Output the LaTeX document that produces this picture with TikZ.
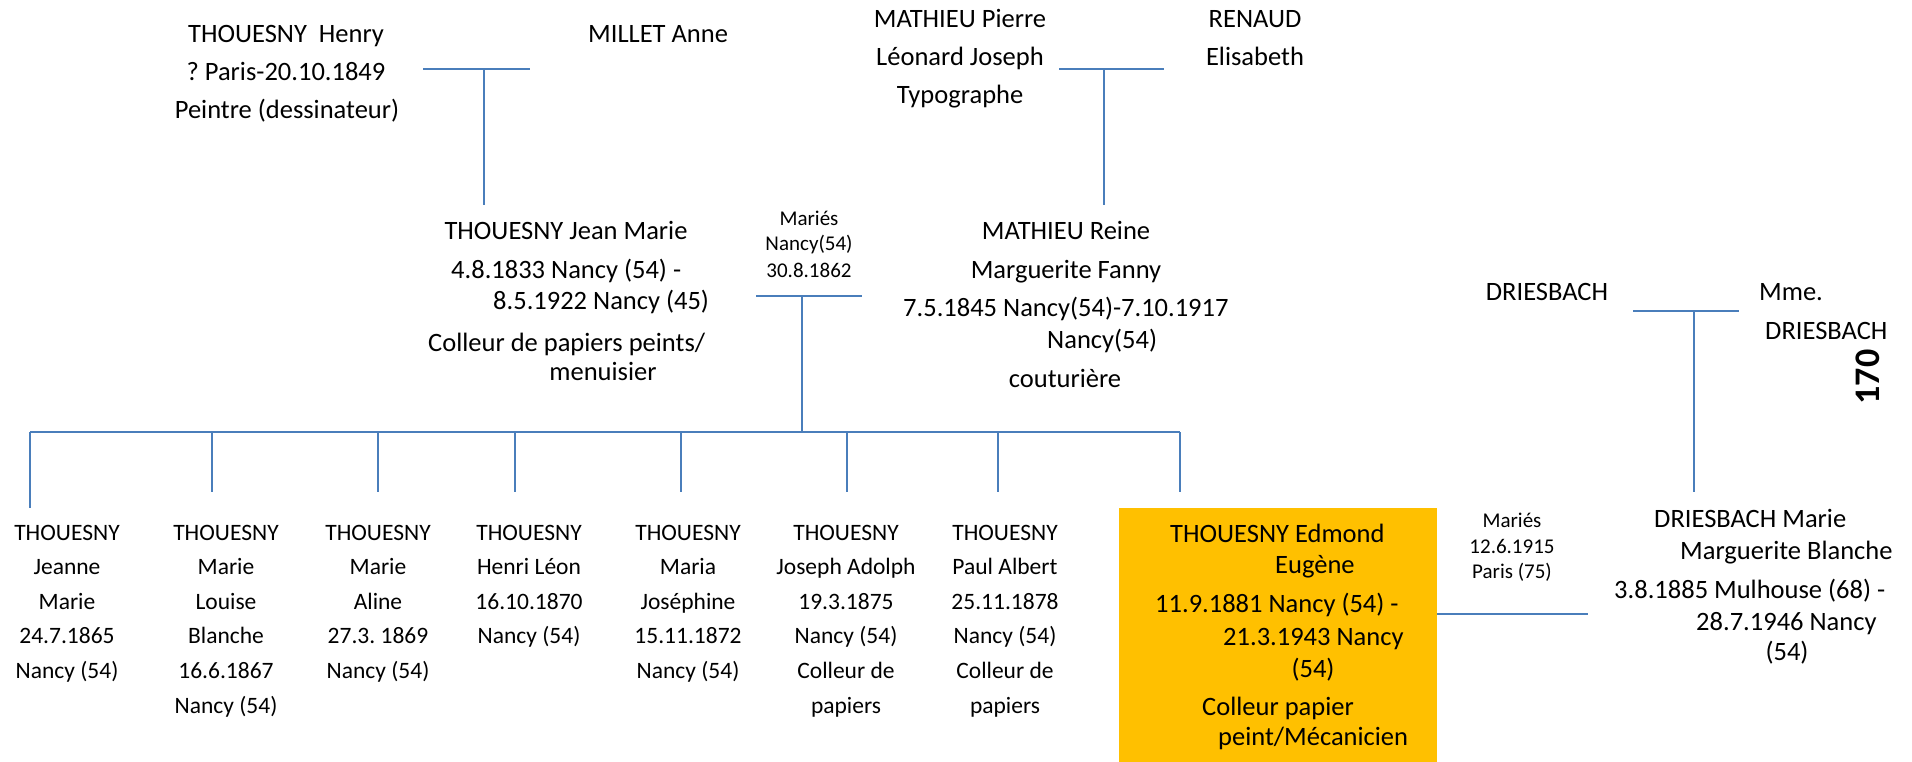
\documentclass[tikz,border=0pt]{standalone}
\usepackage{fontspec}
\setmainfont{Carlito}
\frenchspacing
\definecolor{lineblue}{RGB}{74,126,187}
\definecolor{boxorange}{RGB}{255,192,0}
\tikzset{
  ln/.style={draw=lineblue, line width=2pt},
  tx/.style={inner sep=0pt, anchor=base, font=\fontsize{26.5}{32}\selectfont},
  tw/.style={tx, anchor=base west},
  ch/.style={inner sep=0pt, anchor=base, font=\fontsize{23.5}{28}\selectfont},
  sm/.style={inner sep=0pt, anchor=base, font=\fontsize{21}{25}\selectfont},
}
\newcommand\kidlines[3]{%
  \foreach \l [count=\i from 0] in {#3}
    \node[ch] (#1-\i) at ({#2},{540+34.6*\i}) {\l};}
\begin{document}
\begin{tikzpicture}[x=1pt,y=-1pt]
\useasboundingbox (0,0) rectangle (1912,762);

% highlighted box
\node[fill=boxorange, inner sep=0pt, minimum width=318pt, minimum height=254pt, anchor=north west] (edbox) at (1119,508) {};

% ---- grandparents ----
\node[tx] (h1) at (286,43) {THOUESNY\ \ Henry};
\node[tx] (h2) at (286,81) {? Paris-20.10.1849};
\node[tx] (h3) at (287,119) {Peintre (dessinateur)};
\node[tw] (m1) at (588,43) {MILLET Anne};

\node[tx] (p1) at (960,28) {MATHIEU Pierre};
\node[tx] (p2) at (960,66) {Léonard Joseph};
\node[tx] (p3) at (960,104) {Typographe};
\node[tx] (r1) at (1255,28) {RENAUD};
\node[tx] (r2) at (1255,66) {Elisabeth};

% ---- parents ----
\node[tx] (j1) at (566,240) {THOUESNY Jean Marie};
\node[tw] (j2) at (451,278) {4.8.1833 Nancy (54) -};
\node[tw] (j3) at (493,309) {8.5.1922 Nancy (45)};
\node[tw] (j4) at (428,351) {Colleur de papiers peints/};
\node[tx] (j5) at (603,380) {menuisier};

\node[sm] (ma1) at (809,226) {Mariés};
\node[sm] (ma2) at (809,251) {Nancy(54)};
\node[sm] (ma3) at (809,277) {30.8.1862};

\node[tx] (rn1) at (1066,240) {MATHIEU Reine};
\node[tx] (rn2) at (1066,278) {Marguerite Fanny};
\node[tw] (rn3) at (903,316) {7.5.1845 Nancy(54)-7.10.1917};
\node[tw] (rn4) at (1047,348) {Nancy(54)};
\node[tx] (rn5) at (1065,387) {couturière};

% ---- Driesbach parents ----
\node[tx] (d1) at (1547,300) {DRIESBACH};
\node[tw] (d2) at (1759,300) {Mme.};
\node[tw] (d3) at (1765,339) {DRIESBACH};
\node[inner sep=0pt, rotate=90, font=\bfseries\fontsize{36}{36}\selectfont] (num) at (1868,377) {170};

% ---- children ----
\kidlines{k1}{67}{THOUESNY,Jeanne,Marie,24.7.1865,Nancy (54)}
\kidlines{k2}{226}{THOUESNY,Marie,Louise,Blanche,16.6.1867,Nancy (54)}
\kidlines{k3}{378}{THOUESNY,Marie,Aline,27.3. 1869,Nancy (54)}
\kidlines{k4}{529}{THOUESNY,Henri Léon,16.10.1870,Nancy (54)}
\kidlines{k5}{688}{THOUESNY,Maria,Joséphine,15.11.1872,Nancy (54)}
\kidlines{k6}{846}{THOUESNY,Joseph Adolph,19.3.1875,Nancy (54),Colleur de,papiers}
\kidlines{k7}{1005}{THOUESNY,Paul Albert,25.11.1878,Nancy (54),Colleur de,papiers}

% Edmond
\node[tw] (e1) at (1170,542) {THOUESNY Edmond};
\node[tw] (e2) at (1275,573) {Eugène};
\node[tw] (e3) at (1155,612) {11.9.1881 Nancy (54) -};
\node[tw] (e4) at (1223,645) {21.3.1943 Nancy};
\node[tx] (e5) at (1313,677) {(54)};
\node[tw] (e6) at (1202,715) {Colleur papier};
\node[tw] (e7) at (1218,745) {peint/Mécanicien};

\node[sm] (mb1) at (1512,527) {Mariés};
\node[sm] (mb2) at (1512,553) {12.6.1915};
\node[sm] (mb3) at (1512,578) {Paris (75)};

\node[tw] (dm1) at (1654,527) {DRIESBACH Marie};
\node[tw] (dm2) at (1680,559) {Marguerite Blanche};
\node[tw] (dm3) at (1614,598) {3.8.1885 Mulhouse (68) -};
\node[tw] (dm4) at (1696,630) {28.7.1946 Nancy};
\node[tx] (dm5) at (1787,660) {(54)};

% ---- connector coordinates ----
\coordinate (hmL) at (423,69);  \coordinate (hmR) at (530,69);
\coordinate (hmT) at (484,69);  \coordinate (hmB) at (484,205);
\coordinate (prL) at (1059,69); \coordinate (prR) at (1164,69);
\coordinate (prT) at (1104,69); \coordinate (prB) at (1104,205);
\coordinate (jrL) at (756,296); \coordinate (jrR) at (862,296);
\coordinate (jrT) at (802,296); \coordinate (jrB) at (802,432);
\coordinate (busL) at (30,432); \coordinate (busR) at (1180,432);
\coordinate (ddL) at (1633,311); \coordinate (ddR) at (1739,311);
\coordinate (ddT) at (1694,311); \coordinate (ddB) at (1694,492);
\coordinate (edR) at (1437,614); \coordinate (dmL) at (1588,614);

\draw[ln] (hmL) -- (hmR);
\draw[ln] (hmT) -- (hmB);
\draw[ln] (prL) -- (prR);
\draw[ln] (prT) -- (prB);
\draw[ln] (jrL) -- (jrR);
\draw[ln] (jrT) -- (jrB);
\draw[ln] (busL) -- (busR);
\draw[ln] (busL) -- (30,508);
\foreach \x in {212,378,515,681,847,998,1180}
  \draw[ln] (\x,432) -- (\x,492);
\draw[ln] (ddL) -- (ddR);
\draw[ln] (ddT) -- (ddB);
\draw[ln] (edR) -- (dmL);
\end{tikzpicture}
\end{document}
